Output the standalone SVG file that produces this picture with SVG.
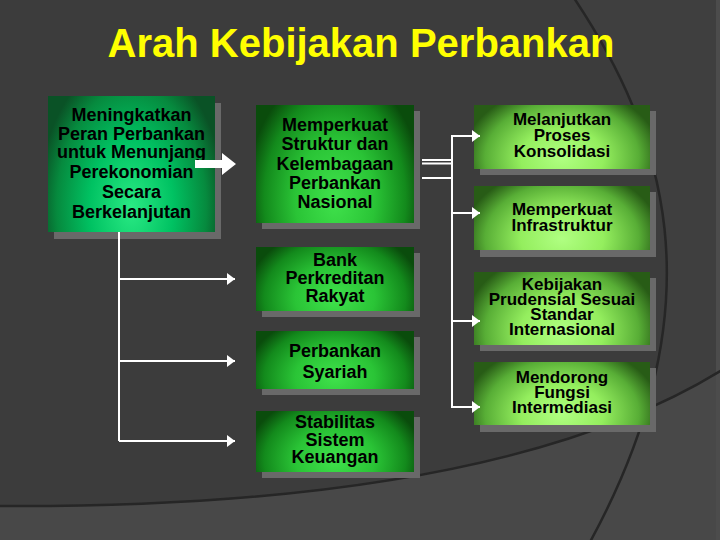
<svg xmlns="http://www.w3.org/2000/svg" width="720" height="540" viewBox="0 0 720 540">
<style>
.t{font-family:"Liberation Sans",Arial,Helvetica,sans-serif;font-weight:bold;font-size:18px;fill:#000;text-anchor:middle}
.tr{font-family:"Liberation Sans",Arial,Helvetica,sans-serif;font-weight:bold;font-size:17px;fill:#000;text-anchor:middle}
.title{font-family:"Liberation Sans",Arial,Helvetica,sans-serif;font-weight:bold;font-size:40px;fill:#ffff00;text-anchor:middle}
.sh{fill:#696969}
.ln{stroke:#fff;stroke-width:2;fill:none}
.ar{stroke:#fff;stroke-width:2;fill:none;marker-end:url(#ah)}
.bg{fill:none;stroke:#262626;stroke-width:2.5}
</style>
<defs>
<radialGradient id="gL" cx="0.5" cy="0.82" r="1" gradientTransform="translate(0.5 0.82) scale(0.56 1.1) translate(-0.5 -0.82)">
<stop offset="0" stop-color="#2aea84"/><stop offset="0.45" stop-color="#00c262"/><stop offset="0.8" stop-color="#068a3e"/><stop offset="1" stop-color="#0a5226"/>
</radialGradient>
<radialGradient id="gM" cx="0.5" cy="0.8" r="1" gradientTransform="translate(0.5 0.8) scale(0.56 1.1) translate(-0.5 -0.8)">
<stop offset="0" stop-color="#40e24c"/><stop offset="0.45" stop-color="#2ac436"/><stop offset="0.8" stop-color="#138a1c"/><stop offset="1" stop-color="#0a4c0c"/>
</radialGradient>
<radialGradient id="gR" cx="0.5" cy="0.82" r="1" gradientTransform="translate(0.5 0.82) scale(0.56 1.1) translate(-0.5 -0.82)">
<stop offset="0" stop-color="#b0ff82"/><stop offset="0.42" stop-color="#94ee5e"/><stop offset="0.78" stop-color="#58ae36"/><stop offset="1" stop-color="#285c16"/>
</radialGradient>
<marker id="ah" markerUnits="userSpaceOnUse" markerWidth="9" markerHeight="12" refX="8" refY="6" orient="auto">
<path d="M0,0 L8,6 L0,12 Z" fill="#fff"/>
</marker>
</defs>

<g id="background">
<rect x="0" y="0" width="720" height="540" fill="#3c3c3c"/>
<path d="M574,-2 C662,130 722,300 590,542 L720,542 L720,-2 Z" fill="#3f3f3f"/>
<path d="M-5,506 C300,508 560,470 722,370 L722,542 L-5,542 Z" fill="#484848"/>
<rect x="716" y="0" width="4" height="540" fill="#4c4c4c"/>
<path class="bg" d="M574,-2 C662,130 722,300 590,542"/>
<path class="bg" d="M-5,506 C300,508 560,470 722,370"/>
</g>

<text class="title" x="361" y="57">Arah Kebijakan Perbankan</text>

<g id="node-meningkatkan">
<rect class="sh" x="54" y="103" width="167" height="136"/>
<rect x="48" y="96" width="167" height="136" fill="url(#gL)"/>
<text class="t" x="131.5" y="121">Meningkatkan</text>
<text class="t" x="131.5" y="139.5">Peran Perbankan</text>
<text class="t" x="131.5" y="158">untuk Menunjang</text>
<text class="t" x="131.5" y="178">Perekonomian</text>
<text class="t" x="131.5" y="198">Secara</text>
<text class="t" x="131.5" y="218">Berkelanjutan</text>
</g>

<g id="node-struktur">
<rect class="sh" x="262" y="111" width="158" height="118"/>
<rect x="256" y="105" width="158" height="118" fill="url(#gM)"/>
<text class="t" x="335" y="131">Memperkuat</text>
<text class="t" x="335" y="150">Struktur dan</text>
<text class="t" x="335" y="170">Kelembagaan</text>
<text class="t" x="335" y="189">Perbankan</text>
<text class="t" x="335" y="208">Nasional</text>
</g>

<g id="node-bpr">
<rect class="sh" x="262" y="253" width="158" height="64"/>
<rect x="256" y="247" width="158" height="64" fill="url(#gM)"/>
<text class="t" x="335" y="266">Bank</text>
<text class="t" x="335" y="284">Perkreditan</text>
<text class="t" x="335" y="302">Rakyat</text>
</g>

<g id="node-syariah">
<rect class="sh" x="262" y="337" width="158" height="58"/>
<rect x="256" y="331" width="158" height="58" fill="url(#gM)"/>
<text class="t" x="335" y="357">Perbankan</text>
<text class="t" x="335" y="378">Syariah</text>
</g>

<g id="node-stabilitas">
<rect class="sh" x="262" y="417" width="158" height="61"/>
<rect x="256" y="411" width="158" height="61" fill="url(#gM)"/>
<text class="t" x="335" y="428">Stabilitas</text>
<text class="t" x="335" y="446">Sistem</text>
<text class="t" x="335" y="463">Keuangan</text>
</g>

<g id="node-konsolidasi">
<rect class="sh" x="480" y="111" width="176" height="64"/>
<rect x="474" y="105" width="176" height="64" fill="url(#gR)"/>
<text class="tr" x="562" y="125">Melanjutkan</text>
<text class="tr" x="562" y="141">Proses</text>
<text class="tr" x="562" y="157">Konsolidasi</text>
</g>

<g id="node-infrastruktur">
<rect class="sh" x="480" y="192" width="176" height="65"/>
<rect x="474" y="186" width="176" height="64" fill="url(#gR)"/>
<text class="tr" x="562" y="215">Memperkuat</text>
<text class="tr" x="562" y="231">Infrastruktur</text>
</g>

<g id="node-prudensial">
<rect class="sh" x="480" y="278" width="176" height="73"/>
<rect x="474" y="272" width="176" height="73" fill="url(#gR)"/>
<text class="tr" x="562" y="290">Kebijakan</text>
<text class="tr" x="562" y="305">Prudensial Sesuai</text>
<text class="tr" x="562" y="320">Standar</text>
<text class="tr" x="562" y="335">Internasional</text>
</g>

<g id="node-intermediasi">
<rect class="sh" x="480" y="368" width="176" height="64"/>
<rect x="474" y="362" width="176" height="63" fill="url(#gR)"/>
<text class="tr" x="562" y="383">Mendorong</text>
<text class="tr" x="562" y="398">Fungsi</text>
<text class="tr" x="562" y="413">Intermediasi</text>
</g>

<g id="connectors">
<polygon points="195,160 222,160 222,153 236,164 222,175 222,168 195,168" fill="#fff"/>
<path class="ln" d="M119,232 V441"/>
<path class="ar" d="M119,279 H235"/>
<path class="ar" d="M119,361 H235"/>
<path class="ar" d="M119,441 H235"/>
<path class="ln" d="M422,160 H452 M422,163.5 H452 M422,178 H452" stroke-width="1.6"/>
<path class="ln" d="M452,136 V407"/>
<path class="ar" d="M451,136 H480"/>
<path class="ar" d="M451,213 H480"/>
<path class="ar" d="M451,321 H480"/>
<path class="ar" d="M451,407 H480"/>
</g>
</svg>
